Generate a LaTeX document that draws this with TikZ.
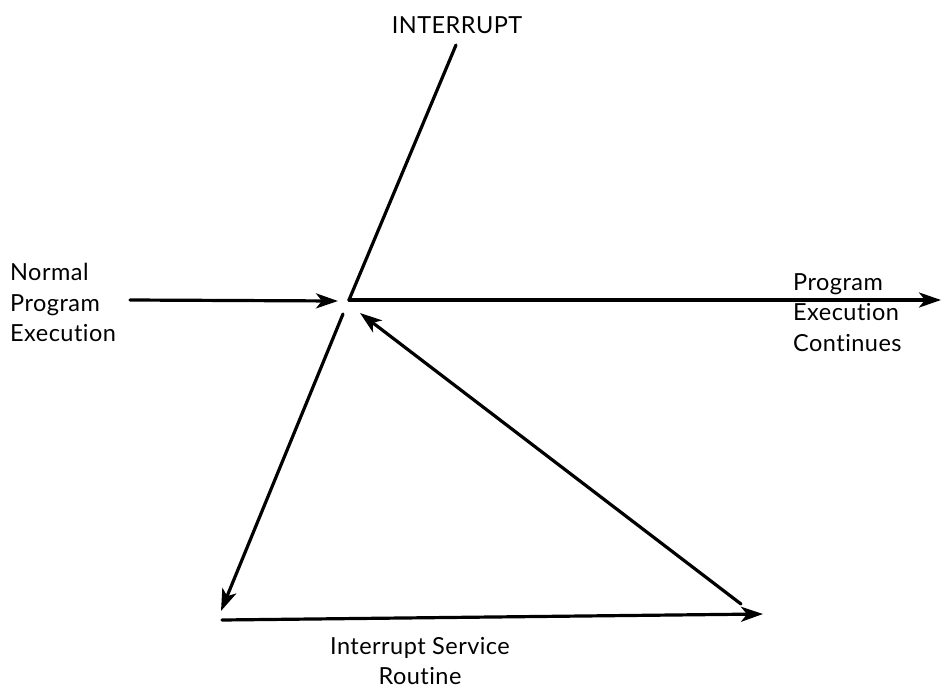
\documentclass[tikz,border=0pt]{standalone}
\usepackage{fontspec}
\setmainfont{Lato}[Ligatures=NoCommon,LetterSpace=2]
\usetikzlibrary{arrows.meta}
\begin{document}
\begin{tikzpicture}[x=1pt,y=-1pt,
  conn/.style={line width=3.2pt,line cap=round},
  arr/.style={conn,-{Stealth[length=22pt,width=15pt,inset=6pt]}},
  lbl/.style={font=\fontsize{23.5}{30.5}\selectfont,inner sep=0pt,align=left}]
\useasboundingbox (0,0) rectangle (943,691);
% coordinates
\coordinate (itop) at (456,45);
\coordinate (ic) at (349,300);
\coordinate (pend) at (941,300);
\coordinate (nstart) at (130,300);
\coordinate (nend) at (338,301);
\coordinate (dstart) at (343,314);
\coordinate (dend) at (221,611);
\coordinate (bstart) at (222,620);
\coordinate (bend) at (763,614);
\coordinate (rstart) at (741,604);
\coordinate (rend) at (360,313);
% labels
\node[lbl,anchor=base] (intr) at (457,33) {INTERRUPT};
\node[lbl,anchor=north west] (npe) at (10,263) {Normal\\Program\\Execution};
\node[lbl,anchor=north west] (pec) at (793,273) {Program\\Execution\\Continues};
\node[lbl,anchor=north,align=center] (isr) at (420,637) {Interrupt Service\\Routine};
% connectors
\draw[conn] (itop) -- (ic);
\draw[arr] (ic) -- (pend);
\draw[arr] (nstart) -- (nend);
\draw[arr] (dstart) -- (dend);
\draw[arr] (bstart) -- (bend);
\draw[arr] (rstart) -- (rend);
\end{tikzpicture}
\end{document}
